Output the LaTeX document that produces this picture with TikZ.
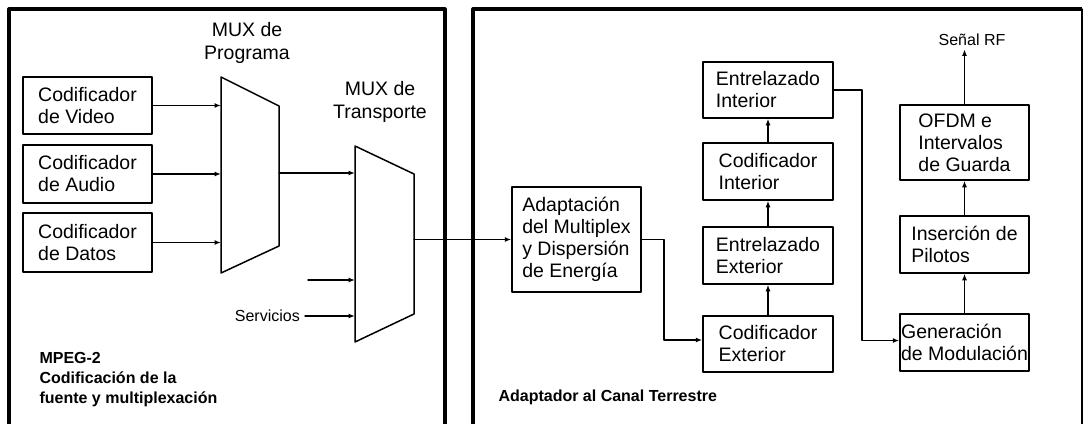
\documentclass[tikz,border=0pt]{standalone}
\usepackage{fontspec}
\setmainfont{Liberation Sans}
\usetikzlibrary{arrows.meta,calc}

\begin{document}
\begin{tikzpicture}[line cap=round,line join=round,>={Latex[length=6.5pt,width=5pt]},x=1pt,y=-1pt,
  bloque/.style={draw,line width=1.5pt,inner sep=0pt,align=left,minimum width=129pt,minimum height=57pt,font=\fontsize{19.5}{22}\selectfont},
  flecha/.style={->,line width=1.5pt},
  marco/.style={line width=3.2pt,line cap=butt},
  etiq/.style={font=\fontsize{19.5}{23}\selectfont,align=center},
  chico/.style={font=\fontsize{16}{18}\selectfont},
  titulo/.style={font=\fontsize{16}{20}\selectfont\bfseries,align=left,anchor=west}]
  \useasboundingbox (0,0) rectangle (1084,423);
  \clip (0,0) rectangle (1084,423);
  % marcos
  \draw[marco] (9,440) |- (445,9) -- (445,440);
  \draw[marco] (473,440) |- (1082,9);
  \draw[line width=1.2pt] (1082,9) -- (1082,440);
  % codificadores
  \node[bloque] (vid) at (87.5,105.5) {Codificador\\de Video};
  \node[bloque,minimum height=58pt] (aud) at (87.5,174) {Codificador\\de Audio};
  \node[bloque,minimum height=59pt] (dat) at (87.5,242.5) {Codificador\\de Datos};
  % MUX de programa
  \coordinate (mp1) at (221,77);
  \coordinate (mp2) at (279,106);
  \coordinate (mp3) at (279,246);
  \coordinate (mp4) at (221,273);
  \draw[line width=1.5pt] (mp1) -- (mp2) -- (mp3) -- (mp4) -- cycle;
  \node[etiq] (lprog) at (247,43) {MUX de\\Programa};
  % MUX de transporte
  \coordinate (mt1) at (355,146);
  \coordinate (mt2) at (414,174);
  \coordinate (mt3) at (414,314);
  \coordinate (mt4) at (355,342);
  \draw[line width=1.5pt] (mt1) -- (mt2) -- (mt3) -- (mt4) -- cycle;
  \node[etiq] (ltrans) at (380,102) {MUX de\\Transporte};
  \draw[flecha] (vid.east) -- (vid.east -| mp1);
  \draw[flecha] (aud.east) -- (aud.east -| mp1);
  \draw[flecha] (dat.east) -- (dat.east -| mp1);
  \coordinate (sprog) at (279,173);
  \draw[flecha] (sprog) -- (sprog -| mt1);
  \coordinate (ext) at (308,280);
  \draw[flecha] (ext) -- (ext -| mt1);
  \node[chico,anchor=east,inner sep=5pt] (serv) at (305,316) {Servicios};
  \draw[flecha] (serv.east) -- (serv.east -| mt1);
  \node[titulo] (mpeg) at (36,380) {MPEG-2\\Codificación de la\\fuente y multiplexación};
  % adaptador al canal terrestre
  \node[bloque,minimum height=105pt] (adap) at (576.5,239.5) {Adaptación\\del Multiplex\\y Dispersión\\de Energía};
  \coordinate (strans) at (414,239.5);
  \draw[flecha] (strans) -- (adap.west);
  \node[bloque,minimum width=130pt,minimum height=56pt] (codext) at (768,344) {Codificador\\Exterior};
  \node[bloque,minimum width=130pt] (entext) at (768,255.5) {Entrelazado\\Exterior};
  \node[bloque,minimum width=130pt] (codint) at (768,171.5) {Codificador\\Interior};
  \node[bloque,minimum width=130pt,minimum height=56pt] (entint) at (768,90) {Entrelazado\\Interior};
  \node[bloque] (gen) at (964.5,342.5) {Generación\\de Modulación};
  \node[bloque] (ins) at (964.5,244.5) {Inserción de\\Pilotos};
  \node[bloque,minimum height=75pt] (ofdm) at (964.5,142.5) {OFDM e\\Intervalos\\de Guarda};
  \node[chico] (senal) at (972,40) {Señal RF};
  \draw[flecha] (adap.east) -- ++(22,0) |- ([yshift=4pt]codext.west);
  \draw[flecha] (codext) -- (entext);
  \draw[flecha] (entext) -- (codint);
  \draw[flecha] (codint) -- (entint);
  \draw[flecha] (entint.east) -- ++(28,0) |- ([yshift=2pt]gen.west);
  \draw[flecha] (gen) -- (ins);
  \draw[flecha] (ins) -- (ofdm);
  \draw[flecha] (ofdm.north) -- (ofdm.north |- senal.south);
  \node[titulo] (canal) at (495,397) {Adaptador al Canal Terrestre};
\end{tikzpicture}
\end{document}
